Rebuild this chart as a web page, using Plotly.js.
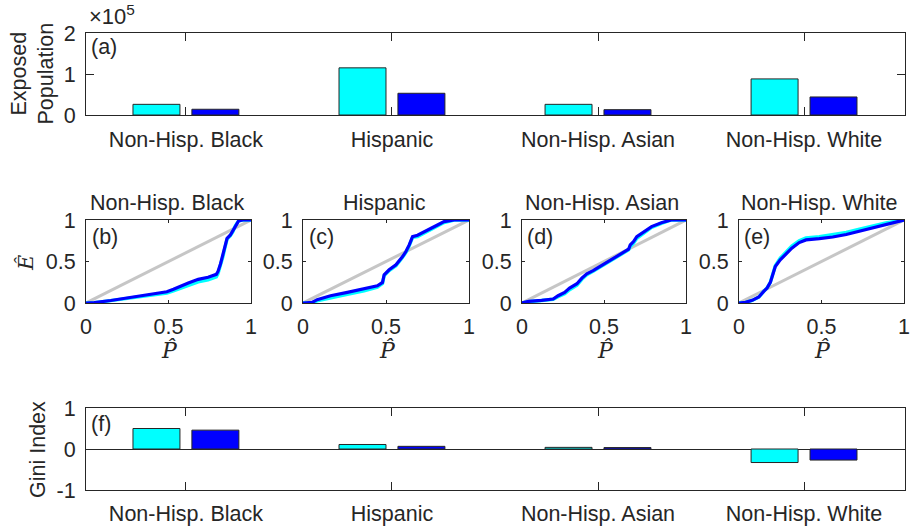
<!DOCTYPE html>
<html>
<head>
<meta charset="utf-8">
<script src="https://cdn.plot.ly/plotly-3.0.1.min.js"></script>
<style>
  html, body { margin: 0; padding: 0; background: #ffffff; }
  #chart { width: 912px; height: 527px; }
</style>
</head>
<body>
<div id="chart"></div>
<script>
// ---------------- DATA ----------------
const categories = ['Non-Hisp. Black', 'Hispanic', 'Non-Hisp. Asian', 'Non-Hisp. White'];

// (a) Exposed population
const exposedCyan = [26000, 115000, 26000, 88000];
const exposedBlue = [14000, 53000, 13000, 44000];
const exposedTickVals = [0, 100000, 200000];
const exposedTickText = ['0', '1', '2'];

// (f) Gini index
const giniCyan = [0.50, 0.11, 0.04, -0.33];
const giniBlue = [0.46, 0.065, 0.035, -0.27];
const giniTickVals = [-1, 0, 1];
const giniTickText = ['-1', '0', '1'];

// Equality line
const diagP = [0, 1];
const diagE = [0, 1];

// (b) Non-Hisp. Black Lorenz curves
const blackP = [0, 0.05, 0.15, 0.25, 0.33, 0.42, 0.49, 0.53, 0.57, 0.62, 0.68, 0.74, 0.79, 0.80, 0.815, 0.83, 0.84, 0.855, 0.875, 0.89, 0.905, 0.925, 0.95, 1.0];
const blackEBlue = [0, 0.005, 0.03, 0.06, 0.09, 0.115, 0.135, 0.165, 0.2, 0.24, 0.285, 0.31, 0.345, 0.38, 0.47, 0.58, 0.66, 0.78, 0.82, 0.87, 0.93, 0.99, 1.0, 1.0];
const blackECyan = [0, 0.005, 0.028, 0.055, 0.082, 0.105, 0.12, 0.145, 0.175, 0.21, 0.255, 0.28, 0.315, 0.355, 0.45, 0.56, 0.65, 0.77, 0.81, 0.86, 0.93, 0.99, 1.0, 1.0];

// (c) Hispanic
const hispP = [0, 0.055, 0.085, 0.166, 0.267, 0.368, 0.448, 0.479, 0.489, 0.519, 0.56, 0.60, 0.62, 0.64, 0.66, 0.69, 0.73, 0.77, 0.81, 0.85, 0.91, 1.0];
const hispEBlue = [0, 0.008, 0.04, 0.088, 0.128, 0.168, 0.208, 0.248, 0.34, 0.40, 0.46, 0.56, 0.62, 0.70, 0.80, 0.816, 0.86, 0.90, 0.94, 0.98, 1.0, 1.0];
const hispECyan = [0, 0.005, 0.025, 0.065, 0.105, 0.145, 0.19, 0.235, 0.33, 0.39, 0.45, 0.55, 0.61, 0.69, 0.79, 0.80, 0.84, 0.88, 0.925, 0.97, 1.0, 1.0];

// (d) Non-Hisp. Asian
const asianP = [0, 0.04, 0.12, 0.19, 0.22, 0.26, 0.29, 0.335, 0.365, 0.395, 0.436, 0.477, 0.507, 0.548, 0.578, 0.61, 0.65, 0.66, 0.68, 0.70, 0.73, 0.76, 0.79, 0.85, 0.91, 1.0];
const asianEBlue = [0, 0.02, 0.032, 0.048, 0.088, 0.128, 0.18, 0.232, 0.30, 0.352, 0.392, 0.44, 0.48, 0.52, 0.56, 0.60, 0.648, 0.70, 0.74, 0.80, 0.84, 0.88, 0.92, 0.968, 1.0, 1.0];
const asianECyan = [0, 0.015, 0.03, 0.045, 0.075, 0.11, 0.16, 0.215, 0.285, 0.34, 0.385, 0.435, 0.475, 0.515, 0.555, 0.595, 0.64, 0.68, 0.72, 0.78, 0.825, 0.87, 0.91, 0.96, 1.0, 1.0];

// (e) Non-Hisp. White
const whiteP = [0, 0.04, 0.08, 0.12, 0.15, 0.17, 0.19, 0.20, 0.22, 0.25, 0.28, 0.32, 0.365, 0.406, 0.487, 0.568, 0.65, 0.73, 0.81, 0.89, 0.95, 1.0];
const whiteEBlue = [0, 0.008, 0.032, 0.072, 0.14, 0.18, 0.248, 0.32, 0.44, 0.52, 0.58, 0.66, 0.728, 0.76, 0.775, 0.795, 0.825, 0.865, 0.905, 0.95, 0.98, 1.0];
const whiteECyan = [0, 0.008, 0.03, 0.07, 0.14, 0.18, 0.25, 0.33, 0.45, 0.54, 0.60, 0.685, 0.75, 0.785, 0.80, 0.82, 0.85, 0.89, 0.93, 0.965, 0.985, 1.0];

const lorenzTicks = [0, 0.5, 1];
const lorenzTickText = ['0', '0.5', '1'];

// ---------------- STYLE ----------------
const W = 912, H = 527;
const CYAN = '#00ffff', BLUE = '#0000ff', GRAY = '#c6c6c6', INK = '#262626';
const FONT = 'Liberation Sans, Arial, Helvetica, sans-serif';
const SERIF = 'DejaVu Serif, Liberation Serif, serif';
const FS = 21.5;
const px = v => v / W;
const py = v => 1 - v / H;

function axisBase(extra) {
  return Object.assign({
    showline: true, linecolor: INK, linewidth: 1, mirror: 'ticks',
    ticks: 'inside', tickcolor: INK, tickwidth: 1,
    showgrid: false, zeroline: false, fixedrange: true,
    tickfont: { family: FONT, size: FS, color: INK }
  }, extra);
}

const BAR_W = 0.228;
const traces = [];

function barPair(yc, yb, xa, ya) {
  traces.push({
    type: 'bar', x: categories, y: yc, xaxis: xa, yaxis: ya,
    width: BAR_W, offset: -0.257,
    marker: { color: CYAN, line: { color: INK, width: 1 } },
    hoverinfo: 'skip', showlegend: false
  });
  traces.push({
    type: 'bar', x: categories, y: yb, xaxis: xa, yaxis: ya,
    width: BAR_W, offset: 0.029,
    marker: { color: BLUE, line: { color: INK, width: 1 } },
    hoverinfo: 'skip', showlegend: false
  });
}
barPair(exposedCyan, exposedBlue, 'x', 'y');

const panels = [
  { P: blackP, eb: blackEBlue, ec: blackECyan },
  { P: hispP, eb: hispEBlue, ec: hispECyan },
  { P: asianP, eb: asianEBlue, ec: asianECyan },
  { P: whiteP, eb: whiteEBlue, ec: whiteECyan }
];
panels.forEach((p, i) => {
  const xa = 'x' + (i + 2), ya = 'y' + (i + 2);
  traces.push({ type: 'scatter', mode: 'lines', x: diagP, y: diagE, xaxis: xa, yaxis: ya,
    line: { color: GRAY, width: 3 }, hoverinfo: 'skip', showlegend: false, cliponaxis: false });
  traces.push({ type: 'scatter', mode: 'lines', x: p.P, y: p.ec, xaxis: xa, yaxis: ya,
    line: { color: CYAN, width: 3.4 }, hoverinfo: 'skip', showlegend: false, cliponaxis: false });
  traces.push({ type: 'scatter', mode: 'lines', x: p.P, y: p.eb, xaxis: xa, yaxis: ya,
    line: { color: BLUE, width: 3.2 }, hoverinfo: 'skip', showlegend: false, cliponaxis: false });
});

barPair(giniCyan, giniBlue, 'x6', 'y6');

// ---------------- LAYOUT ----------------
const panelX = [[86, 251], [303, 469], [522, 686], [739, 904]];
const layout = {
  width: W, height: H,
  margin: { l: 0, r: 0, t: 0, b: 0 },
  paper_bgcolor: '#ffffff', plot_bgcolor: '#ffffff',
  barmode: 'overlay',
  showlegend: false,
  font: { family: FONT, size: FS, color: INK },
  xaxis: axisBase({ domain: [px(86), px(905)], anchor: 'y', type: 'category',
    range: [-0.485, 3.49], ticklen: 8, ticklabelstandoff: 5 }),
  yaxis: axisBase({ domain: [py(115), py(33)], anchor: 'x', range: [0, 200000],
    tickvals: exposedTickVals, ticktext: exposedTickText, ticklen: 8, ticklabelstandoff: 5 }),
  xaxis6: axisBase({ domain: [px(86), px(905)], anchor: 'y6', type: 'category',
    range: [-0.485, 3.49], ticklen: 8, ticklabelstandoff: 4 }),
  yaxis6: axisBase({ domain: [py(490), py(408)], anchor: 'x6', range: [-1, 1],
    tickvals: giniTickVals, ticktext: giniTickText, ticklen: 8, ticklabelstandoff: 5,
    zeroline: true, zerolinecolor: INK, zerolinewidth: 1 }),
  annotations: []
};
panelX.forEach((d, i) => {
  const n = i + 2;
  layout['xaxis' + n] = axisBase({ domain: [px(d[0]), px(d[1])], anchor: 'y' + n,
    range: [0, 1], tickvals: lorenzTicks, ticktext: lorenzTickText, ticklen: 3, ticklabelstandoff: 4 });
  layout['yaxis' + n] = axisBase({ domain: [py(303), py(220)], anchor: 'x' + n,
    range: [0, 1], tickvals: lorenzTicks, ticktext: lorenzTickText, ticklen: 3, ticklabelstandoff: 5 });
});

function ann(text, x, y, opts) {
  layout.annotations.push(Object.assign({
    text: text, xref: 'paper', yref: 'paper', x: px(x), y: py(y),
    showarrow: false, xanchor: 'center', yanchor: 'middle',
    font: { family: FONT, size: FS, color: INK }
  }, opts || {}));
}

// axis titles
ann('Exposed<br>Population', 32.5, 74, { textangle: -90 });
ann('Gini Index', 37.5, 449.5, { textangle: -90 });
ann('\u00CA', 26, 263, { textangle: -90, font: { family: SERIF, size: 21, color: INK, style: 'italic' } });
panelX.forEach(d => {
  ann('P\u0302', (d[0] + d[1]) / 2 + 1, 350, { font: { family: SERIF, size: 22, color: INK, style: 'italic' } });
});
// exponent
ann('\u00D710<sup>5</sup>', 87, 31, { xanchor: 'left', yanchor: 'bottom', font: { family: FONT, size: 22, color: INK } });
// panel titles
const titleText = categories;
panelX.forEach((d, i) => {
  ann(titleText[i], (d[0] + d[1]) / 2 - 2, 202.5);
});
// panel letters
ann('(a)', 89, 47, { xanchor: 'left' });
ann('(b)', 90, 237, { xanchor: 'left' });
ann('(c)', 307, 237, { xanchor: 'left' });
ann('(d)', 525, 237, { xanchor: 'left' });
ann('(e)', 742, 237, { xanchor: 'left' });
ann('(f)', 89, 424, { xanchor: 'left' });

Plotly.newPlot('chart', traces, layout, { staticPlot: true, displayModeBar: false });
</script>
</body>
</html>
